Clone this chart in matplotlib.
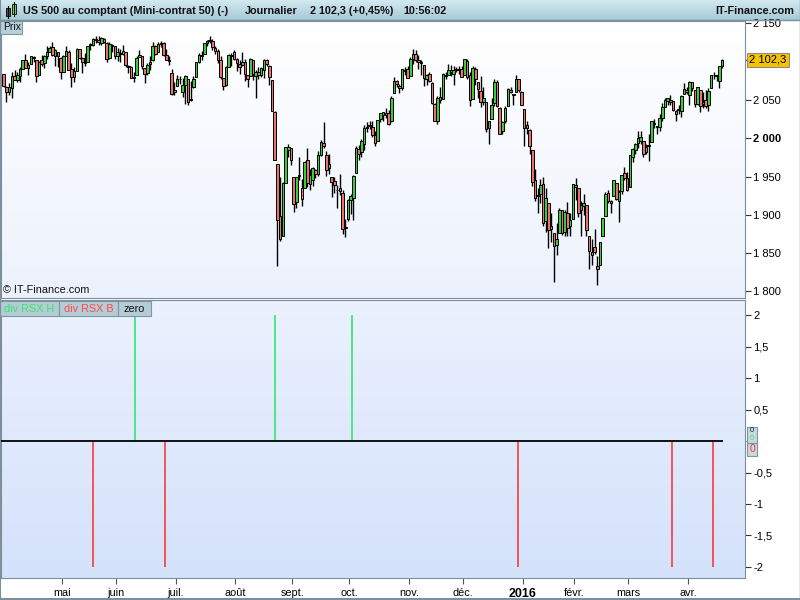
import numpy as np
import matplotlib.pyplot as plt
from matplotlib.patches import Rectangle
from matplotlib.colors import LinearSegmentedColormap

# daily candles, 31 Mar 2015 -> 19 Apr 2016 (index = trading day)
opens = [2084, 2067, 2060, 2065, 2081, 2076, 2081, 2091, 2102, 2092,
         2097, 2105, 2102, 2083, 2102, 2098, 2107, 2113, 2119, 2108,
         2113, 2105, 2087, 2108, 2113, 2090, 2080, 2088, 2116, 2105,
         2100, 2100, 2122, 2122, 2130, 2128, 2125, 2130, 2125, 2105,
         2122, 2120, 2108, 2111, 2110, 2112, 2095, 2093, 2079, 2082,
         2106, 2107, 2092, 2085, 2097, 2102, 2121, 2112, 2123, 2124,
         2109, 2102, 2085, 2061, 2068, 2078, 2060, 2069, 2077, 2050,
         2067, 2080, 2099, 2109, 2110, 2124, 2127, 2127, 2118, 2114,
         2102, 2079, 2070, 2093, 2107, 2112, 2104, 2097, 2096, 2100,
         2083, 2081, 2102, 2081, 2086, 2083, 2089, 2102, 2095, 2076,
         2034, 1966, 1898, 1872, 1942, 1985, 1987, 1950, 1917, 1951,
         1935, 1935, 1972, 1940, 1946, 1959, 1954, 1978, 1994, 1978,
         1961, 1949, 1944, 1932, 1935, 1929, 1883, 1895, 1919, 1922,
         1955, 1986, 1982, 1992, 2014, 2016, 2015, 2004, 1997, 2025,
         2031, 2033, 2033, 2022, 2059, 2075, 2068, 2066, 2088, 2090,
         2081, 2103, 2110, 2102, 2098, 2096, 2077, 2084, 2072, 2045,
         2022, 2054, 2051, 2083, 2083, 2089, 2084, 2089, 2089, 2091,
         2083, 2101, 2082, 2051, 2090, 2073, 2062, 2048, 2047, 2013,
         2025, 2046, 2074, 2040, 2010, 2023, 2042, 2063, 2058, 2060,
         2077, 2061, 2038, 2013, 2011, 1985, 1946, 1926, 1927, 1940,
         1892, 1916, 1885, 1876, 1861, 1877, 1906, 1878, 1903, 1885,
         1895, 1936, 1935, 1907, 1911, 1913, 1873, 1848, 1858, 1833,
         1834, 1872, 1898, 1928, 1916, 1925, 1942, 1918, 1931, 1955,
         1948, 1937, 1976, 1985, 1994, 1996, 1997, 1982, 1991, 1995,
         2019, 2015, 2015, 2027, 2041, 2049, 2048, 2049, 2032, 2038,
         2035, 2058, 2063, 2056, 2073, 2063, 2045, 2063, 2045, 2050,
         2043, 2065, 2082, 2083, 2075, 2094]
highs = [2084, 2068, 2072, 2087, 2089, 2086, 2093, 2102, 2110, 2099,
         2108, 2107, 2102, 2101, 2109, 2109, 2120, 2120, 2126, 2116,
         2113, 2106, 2109, 2121, 2115, 2098, 2093, 2118, 2117, 2106,
         2111, 2121, 2124, 2131, 2134, 2134, 2132, 2131, 2126, 2126,
         2123, 2120, 2118, 2117, 2122, 2112, 2096, 2094, 2086, 2107,
         2115, 2107, 2092, 2098, 2107, 2126, 2122, 2126, 2127, 2126,
         2117, 2108, 2090, 2074, 2083, 2081, 2079, 2083, 2077, 2075,
         2081, 2100, 2111, 2114, 2124, 2128, 2133, 2129, 2120, 2116,
         2107, 2079, 2095, 2110, 2111, 2115, 2105, 2102, 2113, 2103,
         2083, 2105, 2102, 2089, 2093, 2093, 2103, 2103, 2096, 2076,
         2035, 1966, 1949, 1943, 1989, 1993, 1987, 1950, 1949, 1976,
         1947, 1970, 1987, 1960, 1962, 1960, 1984, 1998, 2021, 1984,
         1980, 1949, 1950, 1939, 1953, 1932, 1895, 1921, 1927, 1952,
         1990, 1991, 1999, 2017, 2021, 2022, 2023, 2009, 2024, 2033,
         2034, 2039, 2037, 2055, 2080, 2076, 2071, 2090, 2093, 2095,
         2106, 2116, 2115, 2109, 2102, 2096, 2084, 2086, 2073, 2046,
         2055, 2067, 2085, 2087, 2097, 2096, 2094, 2093, 2094, 2094,
         2104, 2104, 2086, 2094, 2093, 2073, 2081, 2067, 2047, 2023,
         2053, 2077, 2076, 2041, 2023, 2042, 2065, 2067, 2058, 2082,
         2077, 2062, 2038, 2022, 2012, 1985, 1960, 1935, 1947, 1950,
         1935, 1916, 1902, 1876, 1889, 1909, 1907, 1906, 1917, 1902,
         1940, 1948, 1935, 1918, 1927, 1913, 1873, 1868, 1882, 1846,
         1865, 1896, 1930, 1933, 1919, 1946, 1942, 1933, 1952, 1963,
         1956, 1978, 1987, 1994, 2009, 2009, 1997, 1993, 2006, 2022,
         2025, 2016, 2032, 2046, 2053, 2053, 2056, 2049, 2037, 2043,
         2056, 2072, 2067, 2075, 2074, 2063, 2067, 2063, 2061, 2063,
         2065, 2083, 2087, 2083, 2095, 2103]
lows = [2067, 2048, 2057, 2053, 2076, 2073, 2074, 2090, 2092, 2083,
        2097, 2100, 2073, 2082, 2095, 2092, 2104, 2112, 2107, 2095,
        2093, 2077, 2086, 2108, 2089, 2067, 2074, 2088, 2104, 2085,
        2095, 2100, 2115, 2120, 2125, 2122, 2122, 2124, 2100, 2104,
        2112, 2104, 2101, 2099, 2109, 2093, 2085, 2079, 2073, 2082,
        2106, 2091, 2072, 2083, 2089, 2101, 2109, 2112, 2119, 2108,
        2102, 2096, 2056, 2057, 2068, 2071, 2054, 2045, 2044, 2049,
        2066, 2080, 2098, 2102, 2110, 2120, 2124, 2115, 2110, 2098,
        2078, 2063, 2068, 2093, 2094, 2102, 2088, 2084, 2095, 2075,
        2067, 2081, 2076, 2052, 2077, 2080, 2079, 2094, 2070, 2036,
        1971, 1833, 1866, 1872, 1942, 1976, 1965, 1904, 1909, 1945,
        1911, 1935, 1937, 1933, 1938, 1948, 1951, 1977, 1987, 1951,
        1953, 1923, 1928, 1909, 1926, 1875, 1871, 1892, 1901, 1893,
        1955, 1972, 1976, 1985, 2008, 2012, 2002, 1990, 1997, 2021,
        2023, 2026, 2017, 2021, 2059, 2067, 2059, 2063, 2082, 2079,
        2081, 2097, 2099, 2091, 2083, 2068, 2070, 2074, 2045, 2022,
        2019, 2046, 2051, 2077, 2083, 2081, 2070, 2086, 2084, 2080,
        2083, 2077, 2042, 2051, 2069, 2053, 2041, 2044, 2008, 1993,
        2025, 2042, 2041, 2005, 2006, 2020, 2042, 2059, 2044, 2060,
        2061, 2043, 1990, 2005, 1979, 1938, 1918, 1902, 1915, 1886,
        1878, 1857, 1864, 1812, 1848, 1877, 1874, 1872, 1872, 1872,
        1895, 1919, 1897, 1872, 1900, 1872, 1829, 1834, 1849, 1808,
        1834, 1872, 1898, 1915, 1903, 1925, 1919, 1891, 1927, 1946,
        1931, 1937, 1969, 1980, 1987, 1992, 1976, 1979, 1970, 1995,
        2013, 2005, 2010, 2023, 2041, 2043, 2043, 2035, 2022, 2032,
        2028, 2058, 2058, 2044, 2062, 2041, 2043, 2034, 2039, 2040,
        2036, 2065, 2078, 2075, 2065, 2092]
closes = [2068, 2060, 2067, 2081, 2076, 2082, 2091, 2102, 2092, 2096,
          2107, 2105, 2081, 2100, 2097, 2108, 2113, 2118, 2109, 2115,
          2107, 2086, 2108, 2114, 2089, 2080, 2088, 2116, 2105, 2099,
          2098, 2121, 2123, 2129, 2128, 2126, 2131, 2126, 2104, 2123,
          2121, 2107, 2112, 2110, 2114, 2096, 2093, 2079, 2080, 2105,
          2109, 2094, 2084, 2096, 2100, 2121, 2110, 2123, 2124, 2109,
          2102, 2101, 2058, 2063, 2077, 2077, 2069, 2081, 2047, 2051,
          2077, 2100, 2109, 2107, 2124, 2127, 2128, 2119, 2114, 2102,
          2080, 2068, 2093, 2109, 2109, 2104, 2098, 2093, 2100, 2084,
          2078, 2104, 2084, 2086, 2083, 2092, 2102, 2097, 2080, 2036,
          1971, 1893, 1868, 1941, 1988, 1989, 1972, 1914, 1949, 1951,
          1921, 1969, 1942, 1952, 1961, 1953, 1978, 1995, 1990, 1958,
          1967, 1943, 1939, 1932, 1931, 1882, 1884, 1920, 1924, 1951,
          1987, 1980, 1996, 2013, 2015, 2017, 2004, 1994, 2024, 2033,
          2034, 2031, 2019, 2053, 2075, 2071, 2066, 2090, 2089, 2079,
          2104, 2110, 2102, 2100, 2099, 2079, 2082, 2075, 2046, 2023,
          2053, 2050, 2084, 2081, 2089, 2087, 2089, 2089, 2090, 2080,
          2103, 2080, 2050, 2092, 2077, 2064, 2048, 2052, 2012, 2022,
          2043, 2073, 2042, 2006, 2021, 2039, 2064, 2061, 2057, 2078,
          2063, 2044, 2013, 2017, 1990, 1943, 1922, 1924, 1939, 1890,
          1922, 1880, 1881, 1859, 1869, 1907, 1877, 1904, 1883, 1893,
          1940, 1939, 1903, 1913, 1915, 1880, 1853, 1852, 1852, 1829,
          1865, 1896, 1927, 1918, 1918, 1946, 1921, 1930, 1952, 1948,
          1932, 1978, 1986, 1993, 2000, 2002, 1979, 1989, 1990, 2022,
          2020, 2016, 2027, 2041, 2050, 2052, 2050, 2037, 2036, 2037,
          2055, 2064, 2060, 2073, 2066, 2045, 2067, 2042, 2048, 2042,
          2062, 2082, 2083, 2081, 2094, 2102.3]

# div RSX signals (candle index, value)
buy_pos = [48.6, 100.2, 128.6]
sell_pos = [33.1, 59.6, 189.9, 246.7, 261.8]
signal_level = 2

month_labels = ['mai', 'juin', 'juil.', 'août', 'sept.', 'oct.', 'nov.', 'déc.',
                '2016', 'févr.', 'mars', 'avr.']
month_starts = [22, 42, 64, 86, 107, 128, 150, 170, 192, 211, 231, 253]

price_ticks = [1800, 1850, 1900, 1950, 2000, 2050, 2150]
price_labels = ['1 800', '1 850', '1 900', '1 950', '2 000', '2 050', '2 150']
ind_ticks = [-2, -1.5, -1, -0.5, 0.5, 1, 1.5, 2]
ind_labels = ['-2', '-1,5', '-1', '-0,5', '0,5', '1', '1,5', '2']

plt.rcParams['font.family'] = ['Liberation Sans', 'DejaVu Sans']

W, H = 800, 600
def fx(px):
    return px / W
def fy(py):
    return 1 - py / H

fig = plt.figure(figsize=(8, 6), dpi=100, facecolor='white')
frame_col = '#7d8f9b'
xlim = (-1.0, 273.5)

# header bar
hb = fig.add_axes([0, fy(20), 1, 20 / H])
hb.imshow(np.linspace(0, 1, 40).reshape(-1, 1), aspect='auto', extent=[0, 1, 0, 1],
          cmap=LinearSegmentedColormap.from_list('hb', ['#d3e9f0', '#a6c9d7']))
hb.set_xlim(0, 1); hb.set_ylim(0, 1)
hb.set_axis_off()
fig.add_artist(plt.Line2D([0, 1], [fy(20), fy(20)], color=frame_col, lw=1))
# small candle icon
fig.add_artist(Rectangle((fx(6), fy(16)), fx(4), 8 / H, facecolor='#505050', edgecolor='black', lw=0.6))
fig.add_artist(Rectangle((fx(12), fy(14)), fx(4), 10 / H, facecolor='#7ee04a', edgecolor='black', lw=0.6))
fig.add_artist(plt.Line2D([fx(8), fx(8)], [fy(18), fy(6)], color='black', lw=0.8))
fig.add_artist(plt.Line2D([fx(14), fx(14)], [fy(16), fy(2)], color='black', lw=0.8))
hdr = dict(fontsize=7.8, fontweight='bold', va='center', color='#111111')
fig.text(fx(23), fy(11), 'US 500 au comptant (Mini-contrat 50) (-)', **hdr)
fig.text(fx(245), fy(11), 'Journalier', **hdr)
fig.text(fx(310), fy(11), '2 102,3 (+0,45%)', **hdr)
fig.text(fx(403), fy(11), '10:56:02', **hdr)
fig.text(fx(794), fy(11), 'IT-Finance.com', ha='right', **hdr)

# price panel
ax = fig.add_axes([fx(1), fy(298), fx(744), 277 / H])
ax.imshow(np.linspace(0, 1, 60).reshape(-1, 1), aspect='auto', extent=[0, 1, 0, 1],
          transform=ax.transAxes, zorder=0,
          cmap=LinearSegmentedColormap.from_list('pg', ['#ffffff', '#ecf2fd']))
x = np.arange(len(closes))
o = np.array(opens, dtype=float)
c = np.array(closes, dtype=float)
up = c >= o
ax.vlines(x, lows, highs, color='black', lw=1.0, zorder=2)
ax.bar(x, np.maximum(np.abs(c - o), 0.8), bottom=np.minimum(o, c), width=0.95,
       color=np.where(up, '#36d036', '#ec7269'), edgecolor='black', linewidth=0.7, zorder=3)
ax.set_xlim(*xlim)
ax.set_ylim(1791.5, 2153.1)
ax.set_xticks([])
ax.yaxis.tick_right()
ax.set_yticks(price_ticks + [closes[-1]])
ax.set_yticklabels(price_labels + [''])
ax.tick_params(axis='y', length=4, width=0.8, color='#333333', labelsize=8, pad=2)
for lab in ax.get_yticklabels():
    if lab.get_text() == '2 000':
        lab.set_fontweight('bold')
for s in ax.spines.values():
    s.set_color(frame_col)
ax.text(1.006, closes[-1], '2 102,3', transform=ax.get_yaxis_transform(), fontsize=8,
        va='center', ha='left',
        bbox=dict(boxstyle='square,pad=0.2', facecolor='#f5c400', edgecolor='#8a8a8a', lw=0.8))

# "Prix" tag and copyright
fig.add_artist(Rectangle((fx(0), fy(34)), fx(22), 13 / H, facecolor='#b6cfd9', edgecolor='#7f95a0', lw=0.8))
fig.text(fx(3), fy(27.5), 'Prix', fontsize=7.5, va='center', color='#111111')
fig.text(fx(3), fy(290), '© IT-Finance.com', fontsize=7.8, va='center', color='#111111')

# indicator panel
ax2 = fig.add_axes([fx(1), fy(578), fx(744), 278 / H])
ax2.imshow(np.linspace(0, 1, 60).reshape(-1, 1), aspect='auto', extent=[0, 1, 0, 1],
           transform=ax2.transAxes, zorder=0,
           cmap=LinearSegmentedColormap.from_list('ig', ['#ebf1fe', '#d4e2fb']))
ax2.vlines(buy_pos, 0, signal_level, color='#1ee860', lw=1.1, zorder=2)
ax2.vlines(sell_pos, 0, -signal_level, color='#ff2a2a', lw=1.1, zorder=2)
ax2.hlines(0, xlim[0], len(closes) - 1 + 0.3, color='black', lw=1.3, zorder=3)
ax2.set_xlim(*xlim)
ax2.set_ylim(-2.175, 2.24)
ax2.yaxis.tick_right()
ax2.set_yticks(ind_ticks)
ax2.set_yticklabels(ind_labels)
ax2.set_yticks([0], minor=True)
ax2.tick_params(axis='y', which='minor', length=4, color='#ff3030', labelright=False)
ax2.tick_params(axis='y', length=4, width=0.8, color='#333333', labelsize=8, pad=2)
ax2.set_xticks([m - 0.5 for m in month_starts])
ax2.set_xticklabels(month_labels)
ax2.tick_params(axis='x', length=4, width=0.8, color='#555555', labelsize=7.8, pad=3)
for lab in ax2.get_xticklabels():
    if lab.get_text() == '2016':
        lab.set_fontweight('bold')
        lab.set_fontsize(9)
for s in ax2.spines.values():
    s.set_color(frame_col)

# indicator legend tags
tags = [('div RSX H', '#2ee86a', 0, 59), ('div RSX B', '#ff4a4a', 59, 59), ('zero', '#111111', 118, 33)]
for txt, col, x0, w in tags:
    fig.add_artist(Rectangle((fx(x0), fy(316)), fx(w), 15 / H, facecolor='#b4ccd6',
                             edgecolor='#7f95a0', lw=0.8))
    fig.text(fx(x0 + w / 2), fy(308.5), txt, fontsize=7.8, color=col, ha='center', va='center')

# stacked zero value tags on the right axis
fig.add_artist(Rectangle((fx(747), fy(443)), fx(10), 16 / H, facecolor='#c8d8e0', edgecolor='#7f95a0', lw=0.8))
fig.text(fx(752), fy(431), '0', fontsize=5.5, color='#222222', ha='center', va='center')
fig.text(fx(752), fy(438.5), '0', fontsize=5.5, color='#2ee86a', ha='center', va='center')
fig.add_artist(Rectangle((fx(747), fy(456)), fx(10), 13 / H, facecolor='#c8d8e0', edgecolor='#7f95a0', lw=0.8))
fig.text(fx(752), fy(449.5), '0', fontsize=7.5, color='#ff3030', ha='center', va='center')

fig.add_artist(plt.Line2D([0, 0], [0, 1], color=frame_col, lw=1.5))
fig.add_artist(plt.Line2D([fx(799.5), fx(799.5)], [0, 1], color=frame_col, lw=1))
fig.add_artist(plt.Line2D([0, 1], [0.001, 0.001], color=frame_col, lw=1.5))

fig.savefig('out.png', dpi=100)
